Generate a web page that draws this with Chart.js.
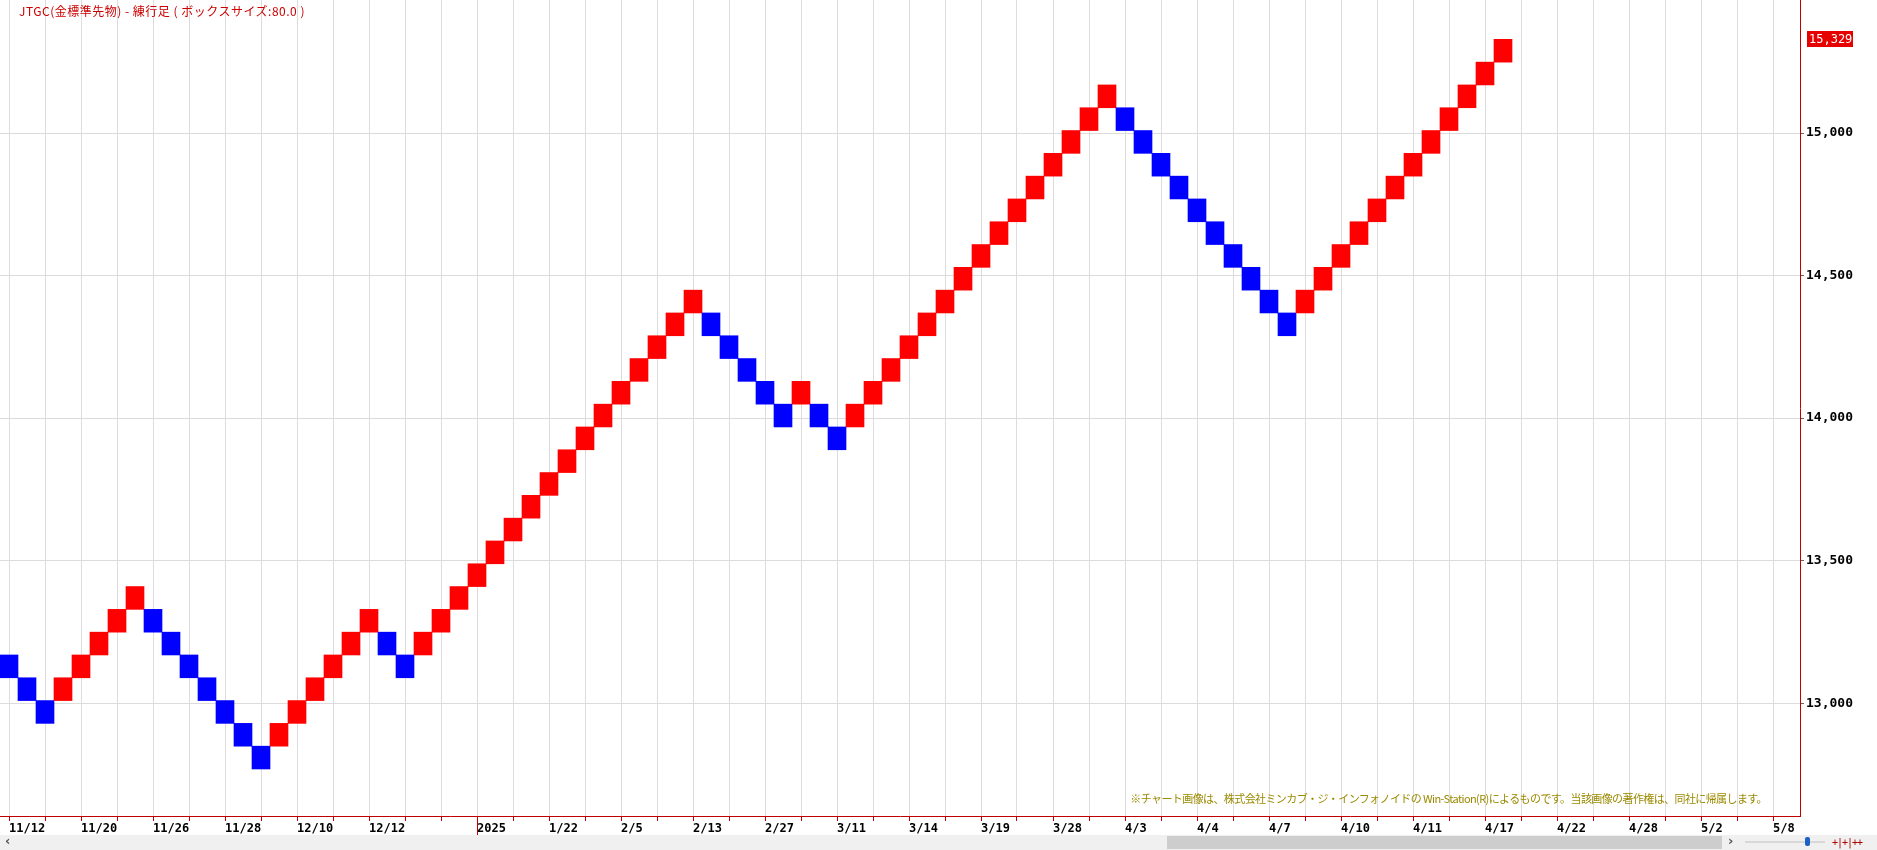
<!DOCTYPE html>
<html>
<head>
<meta charset="utf-8">
<script src="https://cdn.jsdelivr.net/npm/chart.js@4"></script>
<style>
  body { margin: 0; background: #fff; }
  #wrap { position: relative; width: 1877px; height: 850px; overflow: hidden; }
  #title { position: absolute; left: 19px; top: 2px; font: 12px "Noto Sans CJK JP", sans-serif; letter-spacing: 0.5px; color: #cc0000; white-space: pre; }
  #note { position: absolute; right: 110px; top: 790px; font: 11px "Noto Sans CJK JP", sans-serif; letter-spacing: -0.6px; color: #9a8a00; white-space: nowrap; }
  #scroll { position: absolute; left: 0; top: 835px; width: 1877px; height: 15px; background: #f0f0f0; }
  #thumb { position: absolute; left: 1167px; top: 1px; width: 555px; height: 13px; background: #cdcdcd; }
  .arrow { position: absolute; top: -2px; font: bold 13px "DejaVu Sans", sans-serif; color: #555; }
  #slider { position: absolute; left: 1745px; top: 6px; width: 80px; height: 2px; background: #d8d8d8; }
  #knob { position: absolute; left: 1805px; top: 2px; width: 5px; height: 9px; background: #1f5fc8; border-radius: 2px; }
  #icons { position: absolute; left: 1832px; top: 2px; font: 10px "DejaVu Sans Mono", monospace; color: #a00; letter-spacing: -1px; }
</style>
</head>
<body>
<div id="wrap">
  <canvas id="chart" width="1877" height="850"></canvas>
  <div id="title">JTGC(金標準先物) - 練行足 ( ボックスサイズ:80.0 )</div>
  <div id="note">※チャート画像は、株式会社ミンカブ・ジ・インフォノイドの Win-Station(R)によるものです。当該画像の著作権は、同社に帰属します。</div>
  <div id="scroll">
    <span class="arrow" style="left:5px">‹</span>
    <div id="thumb"></div>
    <span class="arrow" style="left:1728px">›</span>
    <div id="slider"></div>
    <div id="knob"></div>
    <div id="icons">+|+|++</div>
  </div>
</div>
<script>
// renko bricks, box size 80: top of each brick and its direction (U = up/red, D = down/blue)
const boxSize = 80;
const brickHigh = [
  13169, 13089, 13009,
  13089, 13169, 13249, 13329, 13409,
  13329, 13249, 13169, 13089, 13009, 12929, 12849,
  12929, 13009, 13089, 13169, 13249, 13329,
  13249, 13169,
  13249, 13329, 13409, 13489, 13569, 13649, 13729, 13809, 13889, 13969, 14049, 14129, 14209, 14289, 14369, 14449,
  14369, 14289, 14209, 14129, 14049,
  14129,
  14049, 13969,
  14049, 14129, 14209, 14289, 14369, 14449, 14529, 14609, 14689, 14769, 14849, 14929, 15009, 15089, 15169,
  15089, 15009, 14929, 14849, 14769, 14689, 14609, 14529, 14449, 14369,
  14449, 14529, 14609, 14689, 14769, 14849, 14929, 15009, 15089, 15169, 15249, 15329
];
const brickDir = [
  "D", "D", "D",
  "U", "U", "U", "U", "U",
  "D", "D", "D", "D", "D", "D", "D",
  "U", "U", "U", "U", "U", "U",
  "D", "D",
  "U", "U", "U", "U", "U", "U", "U", "U", "U", "U", "U", "U", "U", "U", "U", "U",
  "D", "D", "D", "D", "D",
  "U",
  "D", "D",
  "U", "U", "U", "U", "U", "U", "U", "U", "U", "U", "U", "U", "U", "U", "U",
  "D", "D", "D", "D", "D", "D", "D", "D", "D", "D",
  "U", "U", "U", "U", "U", "U", "U", "U", "U", "U", "U", "U"
];
const slotCount = 100;
const labelSlots = [0, 4, 8, 12, 16, 20, 26, 30, 34, 38, 42, 46, 50, 54, 58, 62, 66, 70, 74, 78, 82, 86, 90, 94, 98];
const labelTexts = ["11/12", "11/20", "11/26", "11/28", "12/10", "12/12", "2025", "1/22", "2/5", "2/13", "2/27", "3/11",
  "3/14", "3/19", "3/28", "4/3", "4/4", "4/7", "4/10", "4/11", "4/17", "4/22", "4/28", "5/2", "5/8"];
const yearSlot = 26;
const yTicks = [13000, 13500, 14000, 14500, 15000];
const lastPrice = 15329;
const yMin = 12604, yMax = 15467;

const xLabels = Array(slotCount).fill("");
labelSlots.forEach((s, i) => { xLabels[s] = labelTexts[i]; });

const bars = brickHigh.map(h => [h - boxSize, h]);
const colors = brickDir.map(d => d === "U" ? "#ff0000" : "#0000ff");

const markers = {
  id: "markers",
  afterDraw(chart) {
    const { ctx, scales: { x, y } } = chart;
    // current price box on the right axis
    const py = Math.round(y.getPixelForValue(lastPrice));
    ctx.save();
    ctx.fillStyle = "#e60000";
    ctx.fillRect(y.left + 7, py - 8, 46, 16);
    ctx.fillStyle = "#ffffff";
    ctx.font = "12px 'DejaVu Sans Mono'";
    ctx.textBaseline = "middle";
    ctx.fillText(lastPrice.toLocaleString("en-US"), y.left + 9, py + 1);
    // year separator below the axis
    const px = Math.round(x.getPixelForTick(yearSlot)) + 0.5;
    ctx.strokeStyle = "#c00000";
    ctx.lineWidth = 1;
    ctx.beginPath();
    ctx.moveTo(px, x.top);
    ctx.lineTo(px, x.top + 19);
    ctx.stroke();
    ctx.restore();
  }
};

new Chart(document.getElementById("chart"), {
  type: "bar",
  data: {
    labels: xLabels,
    datasets: [{
      data: bars,
      backgroundColor: colors,
      borderWidth: 0,
      barPercentage: 1,
      categoryPercentage: 1
    }]
  },
  options: {
    responsive: false,
    animation: false,
    layout: { padding: 0 },
    plugins: { legend: { display: false }, tooltip: { enabled: false } },
    scales: {
      x: {
        type: "category",
        offset: true,
        grid: {
          offset: false,
          color: c => c.index % 2 === 0 ? "#dcdcdc" : "rgba(0,0,0,0)",
          tickColor: c => c.index % 2 === 0 ? "#c00000" : "rgba(0,0,0,0)",
          tickLength: 5
        },
        border: { color: "#c00000" },
        ticks: {
          autoSkip: false,
          maxRotation: 0,
          minRotation: 0,
          align: "start",
          padding: 1,
          color: "#000",
          font: { family: "DejaVu Sans Mono", size: 12, weight: "bold" },
          callback: (v, i) => xLabels[i]
        },
        afterFit: s => { s.height = 34; s.paddingLeft = 0; s.paddingRight = 0; }
      },
      y: {
        position: "right",
        min: yMin,
        max: yMax,
        grid: { color: "#dcdcdc", tickColor: "#666", tickLength: 4 },
        border: { color: "#c00000" },
        ticks: {
          padding: 2,
          color: "#000",
          font: { family: "DejaVu Sans Mono", size: 13, weight: "bold" },
          callback: v => v.toLocaleString("en-US")
        },
        afterBuildTicks: s => { s.ticks = yTicks.map(v => ({ value: v })); },
        afterFit: s => { s.width = 77; s.paddingTop = 0; s.paddingBottom = 0; }
      }
    }
  },
  plugins: [markers]
});
</script>
</body>
</html>
